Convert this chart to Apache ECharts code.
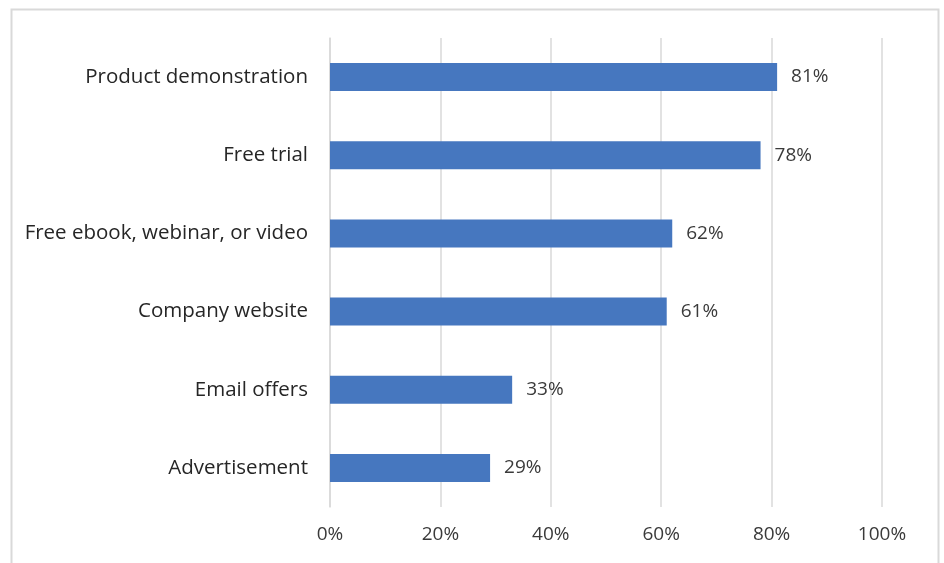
<!DOCTYPE html>
<html>
<head>
<meta charset="utf-8">
<script src="https://cdn.jsdelivr.net/npm/echarts@6/dist/echarts.min.js"></script>
<style>html,body{margin:0;padding:0;background:#fff}#c{width:944px;height:563px}</style>
</head>
<body>
<div id="c"></div>
<script>
const categories = ["Advertisement", "Email offers", "Company website", "Free ebook, webinar, or video", "Free trial", "Product demonstration"];
const values = [29, 33, 61, 62, 78, 81];
const xTicks = [0, 20, 40, 60, 80, 100];

const chart = echarts.init(document.getElementById('c'));
const font = '"Open Sans", sans-serif';
chart.setOption({
  animation: false,
  graphic: [{
    type: 'rect', left: 9, top: 7, silent: true,
    shape: { width: 927, height: 600 },
    style: { fill: 'none', stroke: '#d9d9d9', lineWidth: 2 }
  }],
  grid: { left: 330, right: 62, top: 38, bottom: 56 },
  xAxis: {
    type: 'value', min: xTicks[0], max: xTicks[xTicks.length - 1], interval: 20,
    axisLine: { show: false }, axisTick: { show: false },
    splitLine: { lineStyle: { color: '#d9d9d9', width: 1.5 } },
    axisLabel: { formatter: '{value}%', color: '#3a3a3a', fontSize: 19, fontFamily: font, margin: 18 }
  },
  yAxis: {
    type: 'category', data: categories,
    axisLine: { show: true, lineStyle: { color: '#d9d9d9', width: 1.5 } },
    axisTick: { show: false },
    axisLabel: { color: '#262626', fontSize: 20.5, fontFamily: font, margin: 22 }
  },
  series: [{
    type: 'bar', data: values, barWidth: 28,
    itemStyle: { color: '#4677bf' },
    label: { show: true, position: 'right', distance: 14, formatter: '{c}%', color: '#3a3a3a', fontSize: 19, fontFamily: font }
  }]
});
</script>
</body>
</html>
